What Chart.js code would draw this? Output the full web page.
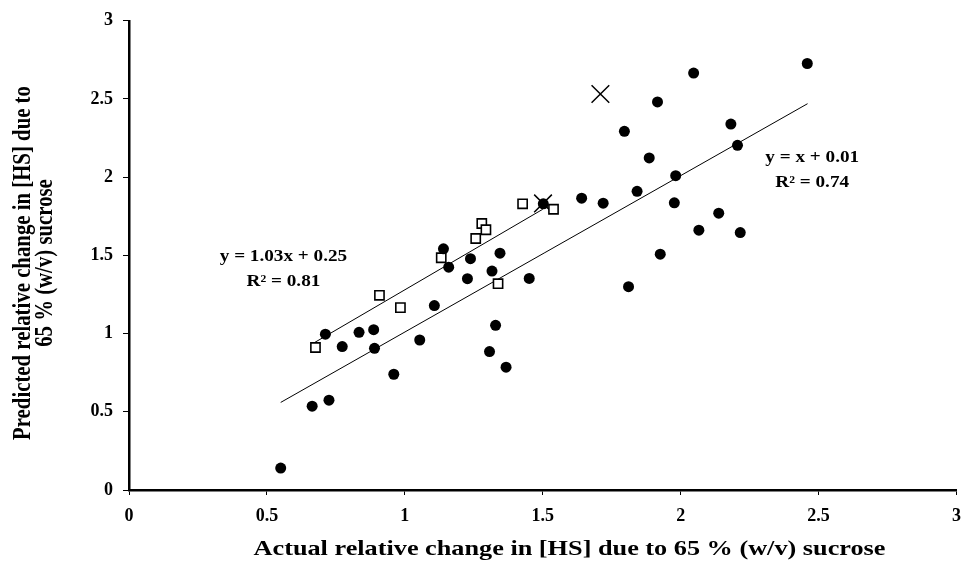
<!DOCTYPE html>
<html>
<head>
<meta charset="utf-8">
<script src="https://cdn.jsdelivr.net/npm/chart.js@4.4.1/dist/chart.umd.min.js"></script>
<style>
  html, body { margin: 0; padding: 0; background: #ffffff; overflow: hidden; }
  #wrap { width: 961px; height: 562px; overflow: hidden; position: relative; }
  #c { position: absolute; left: 0; top: 0; }
</style>
</head>
<body>
<div id="wrap"><canvas id="c" width="972" height="562"></canvas></div>
<script>
// ---- Data ----
const xTickValues = [0, 0.5, 1, 1.5, 2, 2.5, 3];
const yTickValues = [0, 0.5, 1, 1.5, 2, 2.5, 3];

// Filled circles
const circleX = [0.55, 0.664, 0.725, 0.712, 0.773, 0.834, 0.887, 0.890, 0.960, 1.054,
  1.107, 1.140, 1.159, 1.227, 1.238, 1.307, 1.316, 1.329, 1.345, 1.367,
  1.451, 1.502, 1.641, 1.719, 1.796, 1.811, 1.842, 1.886, 1.916, 1.926,
  1.977, 1.982, 2.047, 2.066, 2.138, 2.182, 2.206, 2.216, 2.459];
const circleY = [0.14, 0.536, 0.574, 0.996, 0.917, 1.008, 1.025, 0.906, 0.740, 0.959,
  1.179, 1.542, 1.425, 1.351, 1.479, 0.885, 1.400, 1.053, 1.514, 0.785,
  1.353, 1.830, 1.866, 1.834, 2.293, 1.300, 1.910, 2.123, 2.481, 1.508,
  1.836, 2.010, 2.666, 1.661, 1.770, 2.340, 2.204, 1.646, 2.727];

// Open squares
const squareX = [0.676, 0.908, 0.984, 1.132, 1.257, 1.279, 1.294, 1.338, 1.427, 1.539];
const squareY = [0.911, 1.245, 1.166, 1.485, 1.608, 1.704, 1.664, 1.319, 1.830, 1.795];

// Crosses
const crossX = [1.501, 1.709];
const crossY = [1.832, 2.532];

// Trend lines
const fitSquaresX = [0.67, 1.50];
const fitSquaresY = [0.94, 1.795];
const fitCirclesX = [0.55, 2.46];
const fitCirclesY = [0.56, 2.47];

const eqSquares = ['y = 1.03x + 0.25', 'R\u00B2 = 0.81'];
const eqCircles = ['y = x + 0.01', 'R\u00B2 = 0.74'];

const xTitle = 'Actual relative change in [HS] due to 65 % (w/v) sucrose';
const yTitle = ['Predicted relative change in [HS] due to', '65 % (w/v) sucrose'];

const toPts = (xs, ys) => xs.map((x, i) => ({ x: x, y: ys[i] }));

const FONT = '"Liberation Serif", "Times New Roman", serif';
const STRETCH = 1.2; // the reference's lettering is widened horizontally

const textPlugin = {
  id: 'texts',
  afterDraw(chart) {
    const { ctx, scales: { x, y } } = chart;
    ctx.save();
    ctx.fillStyle = '#000';
    ctx.textAlign = 'center';
    ctx.textBaseline = 'middle';

    // equations
    ctx.font = 'bold 16px ' + FONT;
    const put = (lines, dx, dy1, dy2) => {
      const px = x.getPixelForValue(dx);
      [[lines[0], dy1], [lines[1], dy2]].forEach(([t, dy]) => {
        ctx.save();
        ctx.translate(px, y.getPixelForValue(dy));
        ctx.scale(STRETCH, 1);
        ctx.fillText(t, 0, 0);
        ctx.restore();
      });
    };
    put(eqSquares, 0.56, 1.49, 1.33);
    put(eqCircles, 2.477, 2.125, 1.965);

    // x axis title
    ctx.font = 'bold 21px ' + FONT;
    ctx.save();
    ctx.translate(569.5, 550);
    ctx.scale(1.25, 1);
    ctx.fillText(xTitle, 0, 0);
    ctx.restore();

    // y axis title (two lines, rotated)
    ctx.font = 'bold 20.8px ' + FONT;
    ctx.textBaseline = 'alphabetic';
    const cy = 263;
    [[yTitle[0], 29.5], [yTitle[1], 52]].forEach(([t, bx]) => {
      ctx.save();
      ctx.translate(bx, cy);
      ctx.scale(STRETCH, 1);
      ctx.rotate(-Math.PI / 2);
      ctx.fillText(t, 0, 0);
      ctx.restore();
    });
    ctx.restore();
  }
};

new Chart(document.getElementById('c'), {
  type: 'scatter',
  data: {
    datasets: [
      {
        type: 'line', data: toPts(fitCirclesX, fitCirclesY),
        borderColor: '#000', borderWidth: 1, pointRadius: 0, fill: false, order: 5
      },
      {
        type: 'line', data: toPts(fitSquaresX, fitSquaresY),
        borderColor: '#000', borderWidth: 1, pointRadius: 0, fill: false, order: 5
      },
      {
        data: toPts(crossX, crossY), pointStyle: 'crossRot', pointRadius: 12.5,
        borderColor: '#000', borderWidth: 1.5, backgroundColor: '#000', order: 3
      },
      {
        data: toPts(squareX, squareY), pointStyle: 'rect', pointRadius: 6.5,
        borderColor: '#000', borderWidth: 1.6, backgroundColor: '#fff', order: 2
      },
      {
        data: toPts(circleX, circleY), pointStyle: 'circle', pointRadius: 5.5,
        borderColor: '#000', borderWidth: 0, backgroundColor: '#000', order: 1
      }
    ]
  },
  options: {
    responsive: false,
    animation: false,
    devicePixelRatio: 1,
    layout: { padding: { top: 20, right: 0, left: 0, bottom: 0 } },
    plugins: { legend: { display: false }, tooltip: { enabled: false } },
    scales: {
      x: {
        type: 'linear', min: 0, max: 3,
        afterBuildTicks: (s) => { s.ticks = xTickValues.map(v => ({ value: v })); },
        afterFit: (s) => { s.height = 72; },
        border: { display: true, color: '#000', width: 2.5 },
        grid: { drawOnChartArea: false, drawTicks: true, tickLength: 5, color: '#000', lineWidth: 1 },
        ticks: {
          color: '#000', padding: 11,
          font: { family: FONT, size: 18, weight: 'bold' },
          callback: (v) => String(v)
        },
        title: { display: false }
      },
      y: {
        type: 'linear', min: 0, max: 3,
        afterBuildTicks: (s) => { s.ticks = yTickValues.map(v => ({ value: v })); },
        afterFit: (s) => { s.width = 129; },
        border: { display: true, color: '#000', width: 2.5 },
        grid: { drawOnChartArea: false, drawTicks: true, tickLength: 6, color: '#000', lineWidth: 1 },
        ticks: {
          color: '#000', padding: 10,
          font: { family: FONT, size: 18, weight: 'bold' },
          callback: (v) => String(v)
        },
        title: { display: false }
      }
    }
  },
  plugins: [textPlugin]
});
</script>
</body>
</html>
